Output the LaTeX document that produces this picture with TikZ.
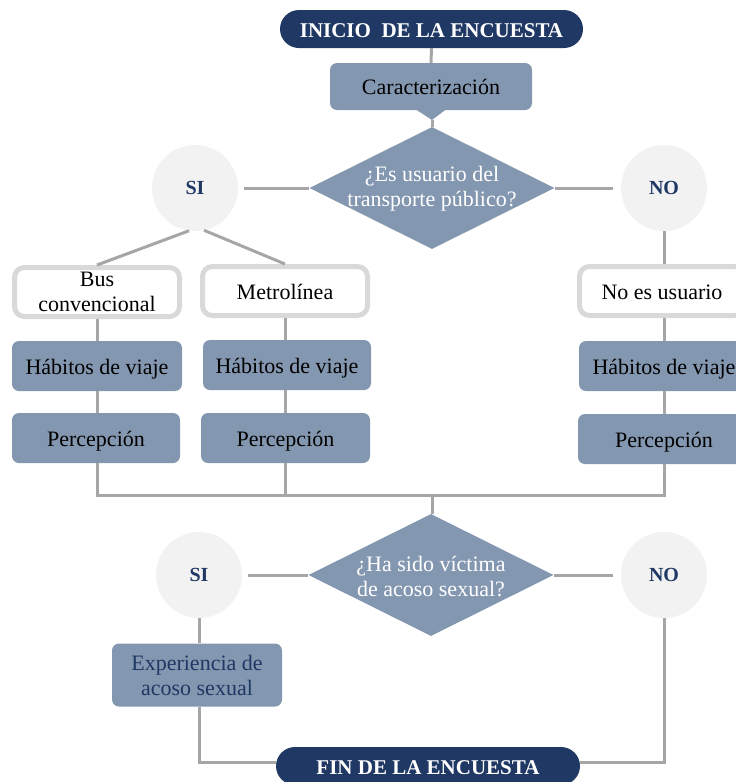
\documentclass[tikz,border=0pt]{standalone}
\usepackage{fontspec}
\setmainfont{Liberation Serif}
\usetikzlibrary{shapes.geometric}
\definecolor{navy}{HTML}{203864}
\definecolor{midblue}{HTML}{8497B0}
\definecolor{circgray}{HTML}{F2F2F2}
\definecolor{linegray}{HTML}{A6A6A6}
\definecolor{bordgray}{HTML}{D9D9D9}
\begin{document}
\begin{tikzpicture}[x=1pt,y=-1pt,
  conn/.style={draw=linegray, line width=3pt},
  pill/.style={rectangle, rounded corners=19pt, fill=navy, text=white, minimum height=38pt, inner sep=0pt, text height=17pt, text depth=1pt, font=\bfseries\fontsize{21}{24}\selectfont},
  bluebox/.style={rectangle, rounded corners=7pt, fill=midblue, text=black, inner sep=0pt, align=center, font=\fontsize{22}{25}\selectfont},
  oneline/.style={text height=18pt, text depth=2pt},
  whitebox/.style={rectangle, rounded corners=10pt, draw=bordgray, line width=5pt, fill=white, text=black, inner sep=0pt, align=center, minimum width=165pt, minimum height=49pt, font=\fontsize{22}{25}\selectfont},
  decision/.style={diamond, fill=midblue, minimum width=245pt, minimum height=122pt, inner sep=0pt},
  dtext/.style={text=white, align=center, inner sep=0pt, font=\fontsize{22}{25}\selectfont},
  answer/.style={circle, fill=circgray, minimum size=86pt, inner sep=0pt, text=navy, font=\bfseries\fontsize{20}{22}\selectfont}
]
\useasboundingbox (0,0) rectangle (736,782);
\clip (0,0) rectangle (736,782);

% start
\node[pill, minimum width=303pt] (start) at (431.5,29) {INICIO~~DE LA ENCUESTA};
\node[bluebox, oneline, minimum width=202pt, minimum height=47pt] (car) at (431,86.5) {Caracterizaci\'on};
\coordinate (cartip) at (432,120);
\fill[midblue] ([xshift=-14pt]car.south) -- (cartip) -- ([xshift=14pt]car.south) -- cycle;

% first decision
\node[decision] (d1) at (432,188) {};
\node[dtext] (d1t) at (432,189) {¿Es usuario del\\transporte público?};
\node[answer] (si1) at (195,188) {SI};
\node[answer] (no1) at (664,188) {NO};

% options
\node[whitebox] (bus) at (97,292) {Bus\\convencional};
\node[whitebox, oneline] (metro) at (285,291) {Metrolínea};
\node[whitebox, oneline] (noes) at (662,291) {No es usuario};

\node[bluebox, oneline, minimum width=170pt, minimum height=50pt] (hab1) at (97,366) {Hábitos de viaje};
\node[bluebox, oneline, minimum width=168pt, minimum height=50pt] (hab2) at (287,365) {Hábitos de viaje};
\node[bluebox, oneline, minimum width=170pt, minimum height=50pt] (hab3) at (664,366) {Hábitos de viaje};

\node[bluebox, oneline, minimum width=168pt, minimum height=50pt] (per1) at (96,438) {Percepción};
\node[bluebox, oneline, minimum width=169pt, minimum height=50pt] (per2) at (285.5,438) {Percepción};
\node[bluebox, oneline, minimum width=172pt, minimum height=50pt] (per3) at (664,439) {Percepción};

\coordinate (j1) at (97,495);
\coordinate (j2) at (285,495);
\coordinate (j3) at (664,495);
\coordinate (jm) at (432,495);

% second decision
\node[decision] (d2) at (431,575) {};
\node[dtext] (d2t) at (431,576) {¿Ha sido víctima\\de acoso sexual?};
\node[answer] (si2) at (199,575) {SI};
\node[answer] (no2) at (664,575) {NO};

\node[bluebox, text=navy, minimum width=170pt, minimum height=63pt] (exp) at (197,675) {Experiencia de\\acoso sexual};

\node[pill, minimum width=304pt] (fin) at (428,766) {FIN DE LA ENCUESTA};

% connectors
\draw[conn] (start.south) -- (car.north);
\draw[conn] (cartip) -- (d1.north);
\draw[conn, shorten <=6pt] (si1.east) -- (d1.west);
\draw[conn, shorten >=8pt] (d1.east) -- (no1.west);
\draw[conn] (si1.262) -- (bus.north);
\draw[conn] (si1.282) -- (metro.north);
\draw[conn] (no1.south) -- ([xshift=2pt]noes.north);
\draw[conn] (bus.south) -- (hab1.north);
\draw[conn] (metro.south) -- ([xshift=-2pt]hab2.north);
\draw[conn] ([xshift=2pt]noes.south) -- (hab3.north);
\draw[conn] (hab1.south) -- ([xshift=1pt]per1.north);
\draw[conn] ([xshift=-2pt]hab2.south) -- ([xshift=-0.5pt]per2.north);
\draw[conn] (hab3.south) -- (per3.north);
\draw[conn] ([xshift=1pt]per1.south) -- (j1) -- (j3) -- (per3.south);
\draw[conn] ([xshift=-0.5pt]per2.south) -- (j2);
\draw[conn] (jm) -- ([xshift=1pt]d2.north);
\draw[conn, shorten <=6pt] (si2.east) -- (d2.west);
\draw[conn, shorten >=8pt] (d2.east) -- (no2.west);
\draw[conn] (si2.south) -- ([xshift=2pt]exp.north);
\draw[conn] ([xshift=2pt]exp.south) |- ([yshift=4pt]fin.west);
\draw[conn] (no2.south) |- ([yshift=4pt]fin.east);
\end{tikzpicture}
\end{document}
